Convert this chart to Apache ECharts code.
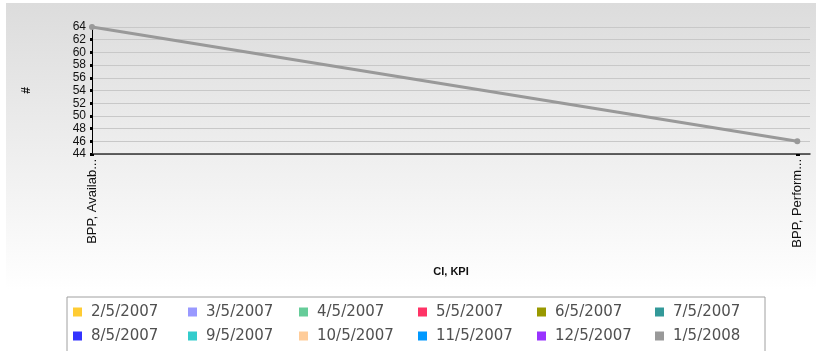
<!DOCTYPE html>
<html>
<head>
<meta charset="utf-8">
<script src="https://cdn.jsdelivr.net/npm/echarts@6/dist/echarts.min.js"></script>
<style>
  html, body { margin: 0; padding: 0; background: #ffffff; }
  #chart { width: 816px; height: 351px; }
</style>
</head>
<body>
<div id="chart"></div>
<script>
// Categories: CI, KPI pairs
const categories = ['BPP, Availability', 'BPP, Performance'];

// Series (snapshot dates) shown in the legend
const seriesNames = [
  '2/5/2007', '3/5/2007', '4/5/2007', '5/5/2007', '6/5/2007', '7/5/2007',
  '8/5/2007', '9/5/2007', '10/5/2007', '11/5/2007', '12/5/2007', '1/5/2008'
];

// Values per series; only the latest snapshot has data
const valuesEmpty = [];
const values_1_5_2008 = [64, 46];

// Y axis ticks
const yMin = 44;
const yMax = 64;
const yStep = 2;

const seriesColors = [
  '#ffcc33', '#9999ff', '#66cc99', '#ff3366', '#999900', '#339999',
  '#3333ff', '#33cccc', '#ffcc99', '#0099ff', '#9933ff', '#999999'
];

// per-column text widths in the legend
const legendColWidths = [91, 87, 95, 95, 94, 92];

function shortLabel(s) {
  return s.length > 12 ? s.slice(0, 12) + '...' : s;
}

const seriesData = seriesNames.map((name) =>
  name === '1/5/2008' ? values_1_5_2008 : valuesEmpty);

const chart = echarts.init(document.getElementById('chart'), null, { renderer: 'canvas' });

chart.setOption({
  animation: false,
  backgroundColor: '#ffffff',
  textStyle: { fontFamily: 'Liberation Sans, Arial, sans-serif' },
  graphic: [{
    type: 'rect',
    left: 6, top: 3, z: -100, silent: true,
    shape: { width: 810, height: 287 },
    style: {
      fill: new echarts.graphic.LinearGradient(0, 0, 0, 1, [
        { offset: 0, color: '#dcdcdc' },
        { offset: 1, color: '#ffffff' }
      ])
    }
  }],
  grid: {
    left: 92, right: 6, top: 27, bottom: 197,
    outerBoundsMode: 'none',
    containLabel: false
  },
  legend: {
    left: 67, top: 297,
    width: 700,
    orient: 'horizontal',
    icon: 'rect',
    itemWidth: 9, itemHeight: 9,
    itemGap: 6,
    padding: [6, 0, 24, 6],
    borderColor: '#a0a0a0', borderWidth: 1,
    backgroundColor: '#ffffff',
    selectedMode: false,
    data: seriesNames.map((name, i) => ({
      name,
      textStyle: { width: legendColWidths[i % 6] }
    })),
    textStyle: {
      fontFamily: 'DejaVu Sans, Verdana, sans-serif',
      fontSize: 15,
      color: '#505050',
      lineHeight: 18,
      padding: [0, 0, 0, 4]
    }
  },
  xAxis: {
    type: 'value',
    min: 0,
    max: categories.length - 1 + 0.018,
    name: 'CI, KPI',
    nameLocation: 'middle',
    nameGap: 112,
    nameTextStyle: { fontWeight: 'bold', fontSize: 11, color: '#111' },
    axisLine: { show: true, onZero: false, lineStyle: { color: '#333333', width: 1.5 } },
    axisTick: {
      show: true, length: 2, customValues: categories.map((_, i) => i),
      lineStyle: { color: '#000', width: 4 }
    },
    axisLabel: {
      customValues: categories.map((_, i) => i),
      rotate: 90, margin: 5, fontSize: 13, color: '#111',
      formatter: (v) => shortLabel(categories[Math.round(v)] || '')
    },
    splitLine: { show: false }
  },
  yAxis: {
    type: 'value',
    min: yMin, max: yMax, interval: yStep,
    name: '#',
    nameLocation: 'middle',
    nameRotate: 90,
    nameGap: 59,
    nameTextStyle: { fontWeight: 'bold', fontSize: 12, color: '#111' },
    axisLine: { show: true, lineStyle: { color: '#000000', width: 1 } },
    axisTick: { show: true, length: 2, lineStyle: { color: '#000', width: 3 } },
    axisLabel: { fontSize: 12, color: '#111', margin: 6 },
    splitLine: { show: true, lineStyle: { color: '#c8c8c8', width: 1 } }
  },
  series: seriesNames.map((name, i) => ({
    name,
    type: 'line',
    color: seriesColors[i],
    data: seriesData[i].map((v, j) => [j, v]),
    symbol: 'circle',
    symbolSize: 6,
    showSymbol: true,
    lineStyle: { width: 3, color: seriesColors[i] },
    itemStyle: { color: seriesColors[i] },
    z: 3
  }))
});
</script>
</body>
</html>
